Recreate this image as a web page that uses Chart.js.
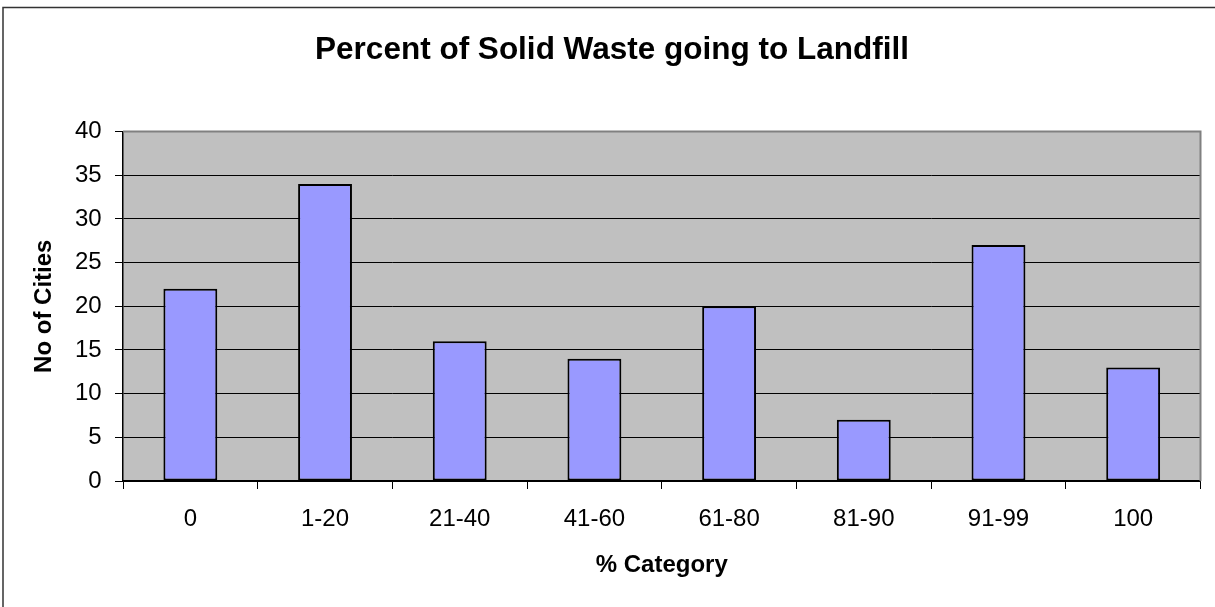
<!DOCTYPE html>
<html><head><meta charset="utf-8">
<script src="https://cdn.jsdelivr.net/npm/chart.js@4.4.1/dist/chart.umd.min.js"></script>
<style>html,body{margin:0;padding:0;background:#fff;overflow:hidden}canvas{display:block}</style>
</head><body>
<canvas id="c" width="1215" height="607"></canvas>
<script>
const categories = ['0', '1-20', '21-40', '41-60', '61-80', '81-90', '91-99', '100'];
const cityCounts = [22, 34, 16, 14, 20, 7, 27, 13];
const yMin = 0, yMax = 40, yStep = 5;
const chartTitle = 'Percent of Solid Waste going to Landfill';
const xTitle = '% Category';
const yTitle = 'No of Cities';

const FONT = 'Liberation Sans, Arial, Helvetica, sans-serif';
Chart.defaults.font.family = FONT;
Chart.defaults.color = '#000';

const frame = {
  id: 'frame',
  beforeDraw(chart) {
    const {ctx, chartArea: a} = chart;
    ctx.save();
    ctx.fillStyle = '#fff';
    ctx.fillRect(0, 0, chart.width, chart.height);
    ctx.strokeStyle = '#333';
    ctx.lineWidth = 1.5;
    ctx.strokeRect(3, 7.5, chart.width + 10, chart.height + 10);
    ctx.fillStyle = '#C0C0C0';
    ctx.fillRect(a.left, a.top, a.right - a.left, a.bottom - a.top);
    ctx.restore();
  },
  afterDatasetsDraw(chart) {
    const {ctx, chartArea: a} = chart;
    ctx.save();
    ctx.strokeStyle = '#808080';
    ctx.lineWidth = 2;
    ctx.beginPath();
    ctx.moveTo(a.left, a.top);
    ctx.lineTo(a.right, a.top);
    ctx.lineTo(a.right, a.bottom);
    ctx.stroke();
    ctx.restore();
  }
};

new Chart(document.getElementById('c'), {
  type: 'bar',
  data: {
    labels: categories,
    datasets: [{
      data: cityCounts,
      backgroundColor: '#9999FF',
      borderColor: '#000',
      borderWidth: 2,
      borderSkipped: false,
      categoryPercentage: 1,
      barPercentage: 0.4
    }]
  },
  options: {
    responsive: false,
    animation: false,
    layout: {padding: {left: 9, right: 0, top: 0, bottom: 0}},
    plugins: {
      legend: {display: false},
      tooltip: {enabled: false},
      title: {
        display: true,
        text: chartTitle,
        color: '#000',
        font: {size: 31.5, weight: 'bold', family: FONT, lineHeight: 1.2},
        padding: {top: 31.4, bottom: 62.3}
      }
    },
    scales: {
      x: {
        grid: {display: true, drawOnChartArea: false, drawTicks: true, tickLength: 8, color: '#000', lineWidth: 1, offset: true},
        border: {display: true, color: '#000', width: 1.5},
        ticks: {font: {size: 24, family: FONT}, color: '#000', padding: 16, maxRotation: 0},
        title: {display: true, text: xTitle, color: '#000', font: {size: 24, weight: 'bold', family: FONT, lineHeight: 1.2}, padding: {top: 0, bottom: 27.4}},
        afterFit(s) { s.height = 126; }
      },
      y: {
        min: yMin, max: yMax,
        grid: {color: '#000', lineWidth: 1, drawTicks: true, tickLength: 8},
        border: {display: true, color: '#000', width: 1.5},
        ticks: {stepSize: yStep, font: {size: 24, family: FONT}, color: '#000', padding: 13.3},
        title: {display: true, text: yTitle, color: '#000', font: {size: 24, weight: 'bold', family: FONT, lineHeight: 1.2}, padding: {top: 21, bottom: 0}},
        afterFit(s) { s.width = 114; }
      },
      yRight: {
        type: 'linear',
        position: 'right',
        display: true,
        min: yMin, max: yMax,
        grid: {display: false, drawTicks: false},
        border: {display: false},
        ticks: {display: false},
        afterFit(s) { s.width = 14.5; }
      }
    }
  },
  plugins: [frame]
});
</script>
</body></html>
